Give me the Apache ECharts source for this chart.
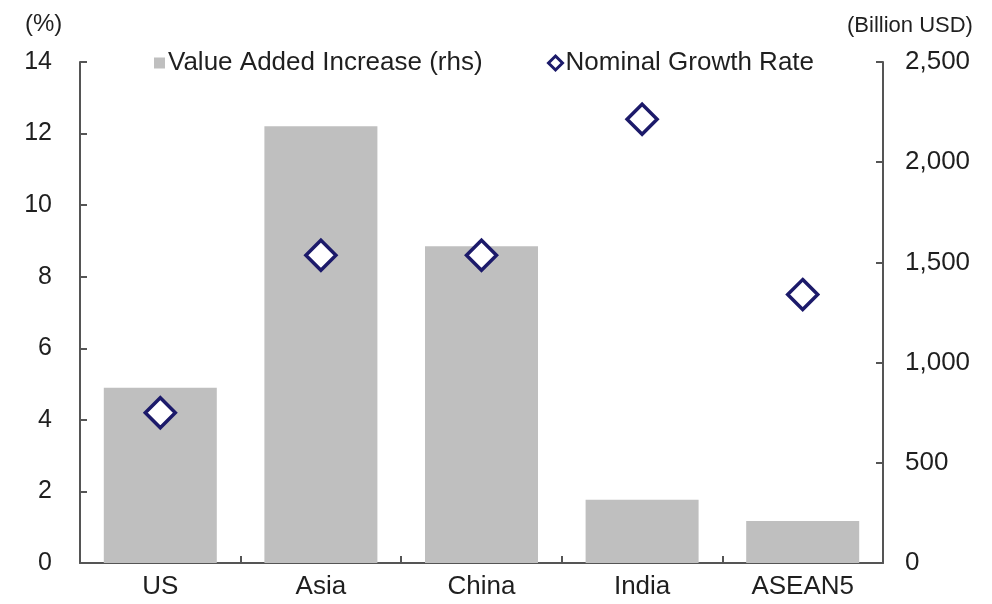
<!DOCTYPE html>
<html>
<head>
<meta charset="utf-8">
<script src="https://cdn.jsdelivr.net/npm/echarts@6/dist/echarts.min.js"></script>
<style>
  html, body { margin: 0; padding: 0; background: #fff; }
  #chart { width: 992px; height: 604px; }
</style>
</head>
<body>
<div id="chart"></div>
<script>
// Categories and values
const categories = ['US', 'Asia', 'China', 'India', 'ASEAN5'];
const valueAdded = [875, 2180, 1580, 315, 210];        // Billion USD (right axis)
const nominalGrowth = [4.2, 8.6, 8.6, 12.4, 7.5];      // % (left axis)
const leftTicks = { min: 0, max: 14, interval: 2 };
const rightTicks = { min: 0, max: 2500, interval: 500 };

const FONT = 'Liberation Sans, Arial, sans-serif';
const TEXT = '#1f1f1f';
const AXIS = '#555555';
const NAVY = '#1c1a6a';

const chart = echarts.init(document.getElementById('chart'));

chart.setOption({
  backgroundColor: '#ffffff',
  animation: false,
  textStyle: { fontFamily: FONT, color: TEXT },
  title: [
    { text: '(%)', left: 20, top: 7, textStyle: { fontFamily: FONT, fontSize: 24, fontWeight: 'normal', color: TEXT } },
    { text: '(Billion USD)', left: 842, top: 10, textStyle: { fontFamily: FONT, fontSize: 22, fontWeight: 'normal', color: TEXT } }
  ],
  legend: [
    {
      data: ['Value Added Increase (rhs)'],
      left: 149, top: 45,
      itemWidth: 11, itemHeight: 11, itemGap: 0,
      icon: 'rect',
      textStyle: { fontFamily: FONT, fontSize: 26, color: TEXT, padding: [0, 0, 0, -2] }
    },
    {
      data: ['Nominal Growth Rate'],
      left: 542, top: 45,
      itemWidth: 14, itemHeight: 14, itemGap: 0,
      icon: 'diamond',
      itemStyle: { color: '#ffffff', borderColor: NAVY, borderWidth: 3 },
      textStyle: { fontFamily: FONT, fontSize: 26, color: TEXT, padding: [0, 0, 0, -2] }
    }
  ],
  grid: { left: 80, right: 109, top: 62, bottom: 41, containLabel: false },
  xAxis: {
    type: 'category',
    data: categories,
    axisLine: { lineStyle: { color: AXIS, width: 2 } },
    axisTick: { show: true, inside: true, length: 7, lineStyle: { color: AXIS, width: 2 } },
    axisLabel: { fontFamily: FONT, fontSize: 26, color: TEXT, margin: 11 },
    splitLine: { show: false }
  },
  yAxis: [
    {
      type: 'value',
      position: 'left',
      min: leftTicks.min, max: leftTicks.max, interval: leftTicks.interval,
      axisLine: { show: true, lineStyle: { color: AXIS, width: 2 } },
      axisTick: { show: true, inside: true, length: 7, lineStyle: { color: AXIS, width: 2 } },
      axisLabel: { fontFamily: FONT, fontSize: 25, color: TEXT, margin: 28 },
      splitLine: { show: false }
    },
    {
      type: 'value',
      position: 'right',
      min: rightTicks.min, max: rightTicks.max, interval: rightTicks.interval,
      axisLine: { show: true, lineStyle: { color: AXIS, width: 2 } },
      axisTick: { show: true, inside: true, length: 7, lineStyle: { color: AXIS, width: 2 } },
      axisLabel: {
        fontFamily: FONT, fontSize: 26, color: TEXT, margin: 22,
        formatter: v => v.toLocaleString('en-US')
      },
      splitLine: { show: false }
    }
  ],
  series: [
    {
      name: 'Value Added Increase (rhs)',
      type: 'bar',
      yAxisIndex: 1,
      data: valueAdded,
      barWidth: 113,
      itemStyle: { color: '#bfbfbf' },
      z: 1
    },
    {
      name: 'Nominal Growth Rate',
      type: 'scatter',
      yAxisIndex: 0,
      data: nominalGrowth,
      symbol: 'diamond',
      symbolSize: [30, 30],
      itemStyle: { color: '#ffffff', borderColor: NAVY, borderWidth: 3.5, opacity: 1 },
      z: 5
    }
  ]
});
</script>
</body>
</html>
